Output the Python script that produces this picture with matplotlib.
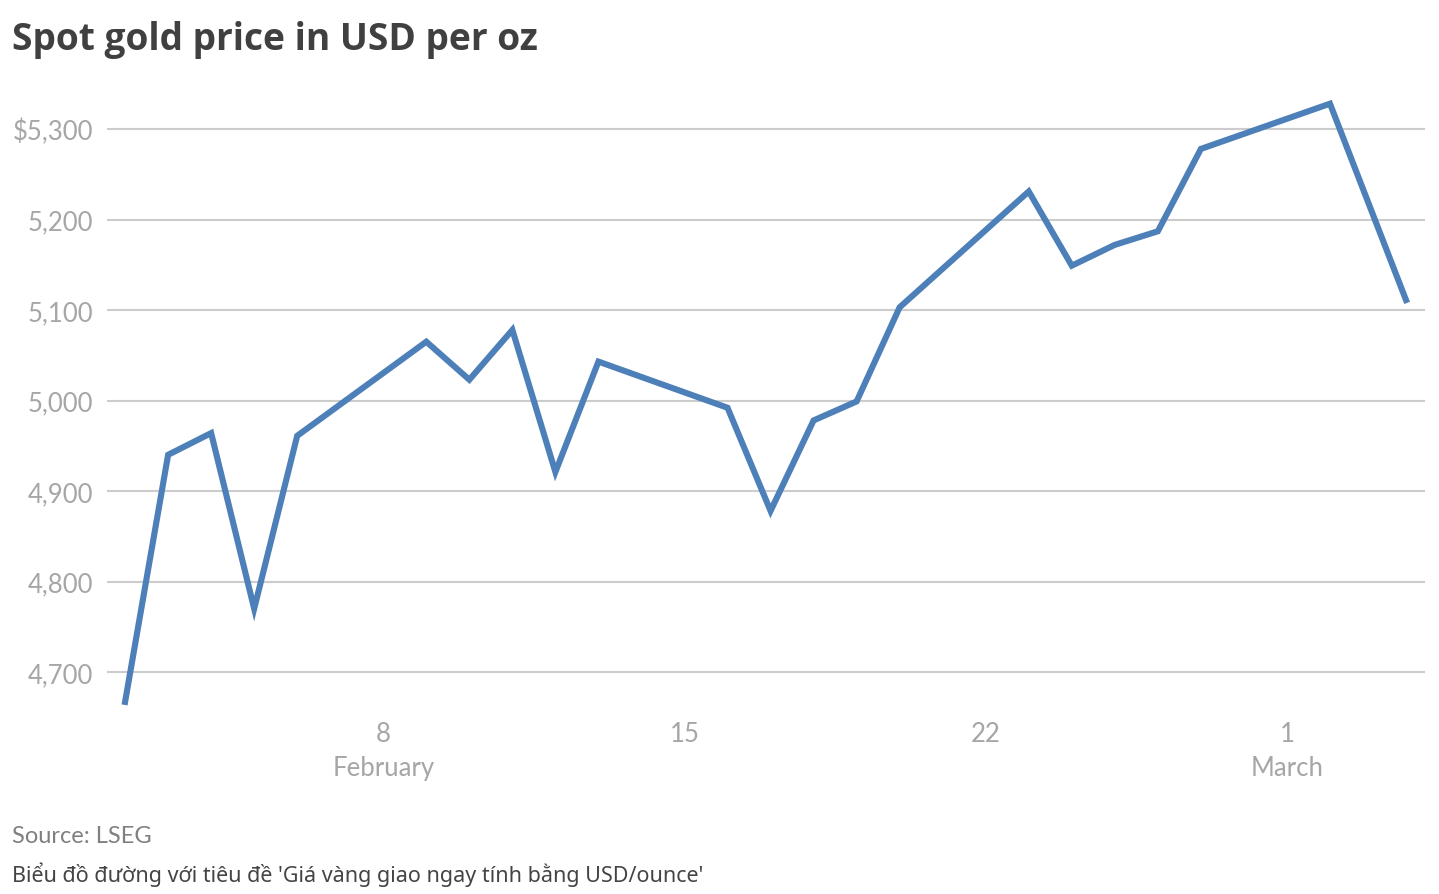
import datetime as dt
import matplotlib.pyplot as plt
import matplotlib.dates as mdates
from matplotlib.ticker import FixedLocator

# spot gold, USD per oz
dates = ["2026-02-02", "2026-02-03", "2026-02-04", "2026-02-05", "2026-02-06",
         "2026-02-09", "2026-02-10", "2026-02-11", "2026-02-12", "2026-02-13",
         "2026-02-16", "2026-02-17", "2026-02-18", "2026-02-19", "2026-02-20",
         "2026-02-23", "2026-02-24", "2026-02-25", "2026-02-26", "2026-02-27",
         "2026-03-02", "2026-03-03 18:25"]
prices = [4667, 4940, 4964, 4770, 4961,
          5065, 5023, 5078, 4921, 5043,
          4992, 4878, 4978, 4999, 5103,
          5231, 5149, 5172, 5187, 5278,
          5328, 5111]

y_ticks = [4700, 4800, 4900, 5000, 5100, 5200, 5300]
y_labels = ["4,700", "4,800", "4,900", "5,000", "5,100", "5,200", "$5,300"]
x_ticks = ["2026-02-08", "2026-02-15", "2026-02-22", "2026-03-01"]
x_labels = ["8\nFebruary", "15", "22", "1\nMarch"]

x = [dt.datetime.fromisoformat(d) for d in dates]

plt.rcParams['font.family'] = ['Lato', 'DejaVu Sans']

fig = plt.figure(figsize=(14.39, 8.95), dpi=100)
ax = fig.add_axes([107 / 1439, 1 - 715 / 895, (1425 - 107) / 1439, 620 / 895])

ax.plot(x, prices, color="#4d7fb8", lw=4.4, solid_joinstyle="miter", zorder=3)

ax.set_ylim(4653.6, 5338.7)
ax.set_xlim(dt.datetime(2026, 2, 1, 13, 55), dt.datetime(2026, 3, 4, 5, 0))

ax.yaxis.set_major_locator(FixedLocator(y_ticks))
ax.set_yticklabels(y_labels)
ax.xaxis.set_major_locator(FixedLocator([mdates.date2num(dt.datetime.fromisoformat(d)) for d in x_ticks]))
ax.set_xticklabels(x_labels)

ax.grid(axis="y", color="#cccccc", lw=1.5)
ax.set_axisbelow(True)
for s in ax.spines.values():
    s.set_visible(False)
ax.tick_params(axis="both", length=0, labelsize=18.5, labelcolor="#a6a6a6")
ax.tick_params(axis="y", pad=10)
ax.tick_params(axis="x", pad=5)
for t in ax.get_xticklabels():
    t.set_linespacing(1.45)

fig.text(12 / 1439, 1 - 40 / 895, "Spot gold price in USD per oz", fontsize=26.7,
         fontweight="bold", color="#404040", va="center", ha="left",
         family=["Open Sans", "DejaVu Sans"])
fig.text(12 / 1439, 1 - 837 / 895, "Source: LSEG", fontsize=17,
         color="#808080", va="center", ha="left")
fig.text(12 / 1439, 1 - 875 / 895,
         "Biểu đồ đường với tiêu đề 'Giá vàng giao ngay tính bằng USD/ounce'",
         fontsize=15.5, color="#444444", va="center", ha="left",
         family=["Noto Sans", "DejaVu Sans"])

fig.savefig("out.png", dpi=100)
